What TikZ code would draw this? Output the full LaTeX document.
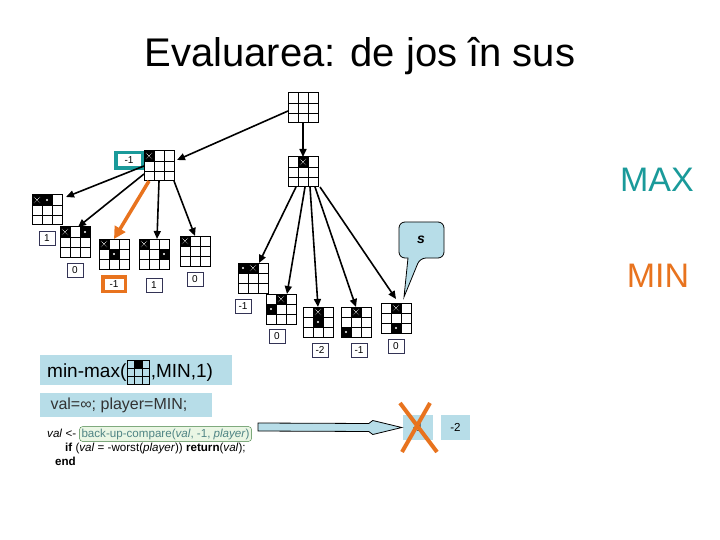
\documentclass[tikz,border=0pt]{standalone}
\usepackage{fontspec}
\setmainfont{Liberation Sans}
\usetikzlibrary{positioning,arrows.meta}

\definecolor{maxteal}{HTML}{1A9A9A}
\definecolor{minorange}{HTML}{E8731E}
\definecolor{paleblue}{HTML}{B7DDE8}
\definecolor{palegreen}{HTML}{EAF6E4}
\definecolor{hlgreen}{HTML}{3F7F3F}
\definecolor{hltext}{HTML}{4F8484}
\definecolor{valline}{HTML}{333355}

\newcommand{\codefont}{\fontsize{11.6}{14}\selectfont}

% tic-tac-toe board: name, north west corner, X cells, O cells (column/row)
\newcommand{\board}[4]{%
  \node[board,anchor=north west] (#1) at (#2) {};
  \begin{scope}[shift={(#1.north west)}]
    \if\relax\detokenize{#3}\relax\else
    \foreach \c/\r in {#3} {\fill (\c*10,\r*10) rectangle ++(10,10);
      \draw[white,line width=0.4pt,dash pattern=on 0.7pt off 0.9pt] (\c*10+2,\r*10+2) -- ++(6,6) (\c*10+8,\r*10+2) -- ++(-6,6);}
    \fi
    \if\relax\detokenize{#4}\relax\else
    \foreach \c/\r in {#4} {\fill (\c*10,\r*10) rectangle ++(10,10);
      \fill[white] (\c*10+5,\r*10+5) circle (1.2);}
    \fi
    \draw[cellgrid] (0,10) -- (30,10) (0,20) -- (30,20) (10,0) -- (10,30) (20,0) -- (20,30);
  \end{scope}}

\begin{document}
\begin{tikzpicture}[x=1pt,y=-1pt,
  board/.style={draw,line width=1pt,inner sep=0pt,outer sep=0pt,minimum size=30pt},
  cellgrid/.style={line width=0.8pt},
  val/.style={draw=valline,line width=0.6pt,fill=white,inner sep=2pt,minimum width=16pt,minimum height=14pt,font=\fontsize{10}{12}\selectfont},
  tealval/.style={val,draw=maxteal,line width=3.5pt,minimum width=26.5pt,minimum height=15.5pt},
  orangeval/.style={val,draw=minorange,line width=3.5pt,minimum width=22.5pt,minimum height=14.5pt},
  bluebox/.style={fill=paleblue,inner sep=0pt},
  hlbox/.style={draw=hlgreen,fill=palegreen,rounded corners=3pt,inner sep=2pt,text=hltext},
  arr/.style={->,line width=1.6pt},
  bestarr/.style={-{Triangle[length=12pt,width=12pt]},line width=3.5pt,draw=minorange},
  >={Triangle[length=8pt,width=7pt]}]
\useasboundingbox (0,0) rectangle (720,540);

\node[anchor=base,font=\fontsize{40}{44}\selectfont] (title) at (360,67) {Evaluarea: de jos în sus};
\node[anchor=base,font=\fontsize{34}{40}\selectfont,text=maxteal] (maxlbl) at (657,192) {MAX};
\node[anchor=base,font=\fontsize{34}{40}\selectfont,text=minorange] (minlbl) at (658,287) {MIN};

% the tree
\board{root}{288,93}{}{}
\board{L}{144,151}{0/0}{}
\board{R}{288,157}{1/0}{}
\board{A}{32,195}{0/0}{1/0}
\board{B}{60,227}{0/0}{2/0}
\board{C}{99,239}{0/0}{1/1}
\board{D}{139,239}{0/0}{2/1}
\board{E}{180,236}{0/0}{}
\board{F}{238,263}{1/0}{0/0}
\board{G}{266,294}{1/0}{0/1}
\board{H}{303,307}{1/0}{1/1}
\board{I}{341,307}{1/0}{0/2}
\board{J}{381,303}{1/0}{1/2}

\node[tealval,anchor=north east] (vL) at (L.north west) {-1};
\node[val,below=6pt of A] (vA) {1};
\node[val,below=6pt of B] (vB) {0};
\node[orangeval,below=6pt of C] (vC) {-1};
\node[val,below=9pt of D] (vD) {1};
\node[val,below=6pt of E] (vE) {0};
\node[val,below=6pt of F,xshift=-10pt] (vF) {-1};
\node[val,below=5pt of G,xshift=-4pt] (vG) {0};
\node[val,below=6pt of H,xshift=2pt] (vH) {-2};
\node[val,below=6pt of I,xshift=3pt] (vI) {-1};
\node[val,below=6pt of J] (vJ) {0};

\draw[arr] ([yshift=-3pt]root.west) -- ([xshift=3pt,yshift=6pt]L.east);
\draw[arr] (root.south) -- (R.north);
\draw[arr] (L.west) -- ([xshift=4pt,yshift=-2pt]A.north east);
\draw[arr] ([yshift=-8pt]L.west) -- ([xshift=3pt]B.north);
\draw[bestarr] ([xshift=5pt]L.south west) -- (C.north);
\draw[arr] (L.south) -- ([xshift=3pt]D.north);
\draw[arr] (L.south east) -- (E.north);
\draw[arr] ([xshift=8pt]R.south west) -- ([xshift=6pt]F.north);
\draw[arr] ([xshift=2pt]R.south) -- ([xshift=6pt]G.north);
\draw[arr] ([xshift=7pt]R.south) -- (H.north);
\draw[arr] ([xshift=-3pt]R.south east) -- (I.north);
\draw[arr] ([xshift=2pt]R.south east) -- ([yshift=4pt]J.north);

% speech bubble
\draw[line width=0.8pt,fill=paleblue,rounded corners=6pt] (408,258) -- (399,258) -- (399,222) -- (444,222) -- (444,258) -- (420,258) [sharp corners] -- (404,297) -- cycle;
\node[font=\fontsize{14}{16}\selectfont\bfseries\itshape] (bub) at (421,240) {s};

% the call
\node[bluebox,minimum width=192pt,minimum height=30pt,anchor=north west] (mmbox) at (40,355) {};
\node[anchor=base west,inner sep=0pt,font=\fontsize{19}{22}\selectfont] (mmtxt) at (47,377) {min-max(};
\node[board,minimum width=22pt,minimum height=24pt,right=1pt of mmtxt] (mmboard) {};
\begin{scope}[shift={(mmboard.north west)},x=7.333pt,y=-8pt]
  \fill (1,0) rectangle (2,1);
  \draw[cellgrid] (0,1) -- (3,1) (0,2) -- (3,2) (1,0) -- (1,3) (2,0) -- (2,3);
\end{scope}
\node[inner sep=0pt,font=\fontsize{19}{22}\selectfont,right=1pt of mmboard] (mmrest) {,MIN,1)};

\node[bluebox,minimum width=172pt,minimum height=24pt,anchor=north west] (valbox) at (40,393) {};
\node[anchor=west,font=\fontsize{16}{18}\selectfont,text=black!80] (valtxt) at ([xshift=7pt]valbox.west) {val=∞; player=MIN;};

\node[anchor=base west,inner sep=0pt,font=\codefont] (cvar) at (47,437) {\textit{val} <-};
\node[hlbox,anchor=base west,font=\codefont] (cbu) at ([xshift=3pt]cvar.base east) {back-up-compare(\textit{val}, -1, \textit{player})};
\node[anchor=base west,inner sep=0pt,font=\codefont] (cif) at (65,451) {\textbf{if} (\textit{val} = -worst(\textit{player})) \textbf{return}(\textit{val});};
\node[anchor=base west,inner sep=0pt,font=\codefont] (cend) at (55,465) {\textbf{end}};

% result
\node[bluebox,minimum width=30pt,minimum height=25pt,font=\codefont] (oldv) at (418,427.5) {-1};
\node[bluebox,minimum width=29pt,minimum height=25pt,font=\codefont] (newv) at (455.5,427.5) {-2};
\coordinate (atail) at (258,427);
\draw[line width=0.8pt,fill=paleblue] ([yshift=4pt]atail) -- ([xshift=-34pt,yshift=4pt]oldv.west) -- ([xshift=-30pt,yshift=7pt]oldv.west)
  -- ([xshift=-1pt]oldv.west) -- ([xshift=-30pt,yshift=-7pt]oldv.west) -- ([xshift=-34pt,yshift=-4pt]oldv.west) -- ([yshift=-4pt]atail) -- cycle;
\draw[minorange,line width=4pt] ([xshift=-18pt,yshift=24.5pt]oldv.center) -- ([xshift=19pt,yshift=-24.5pt]oldv.center)
  ([xshift=12pt,yshift=24.5pt]oldv.center) -- ([xshift=-16pt,yshift=-24.5pt]oldv.center);
\end{tikzpicture}
\end{document}
